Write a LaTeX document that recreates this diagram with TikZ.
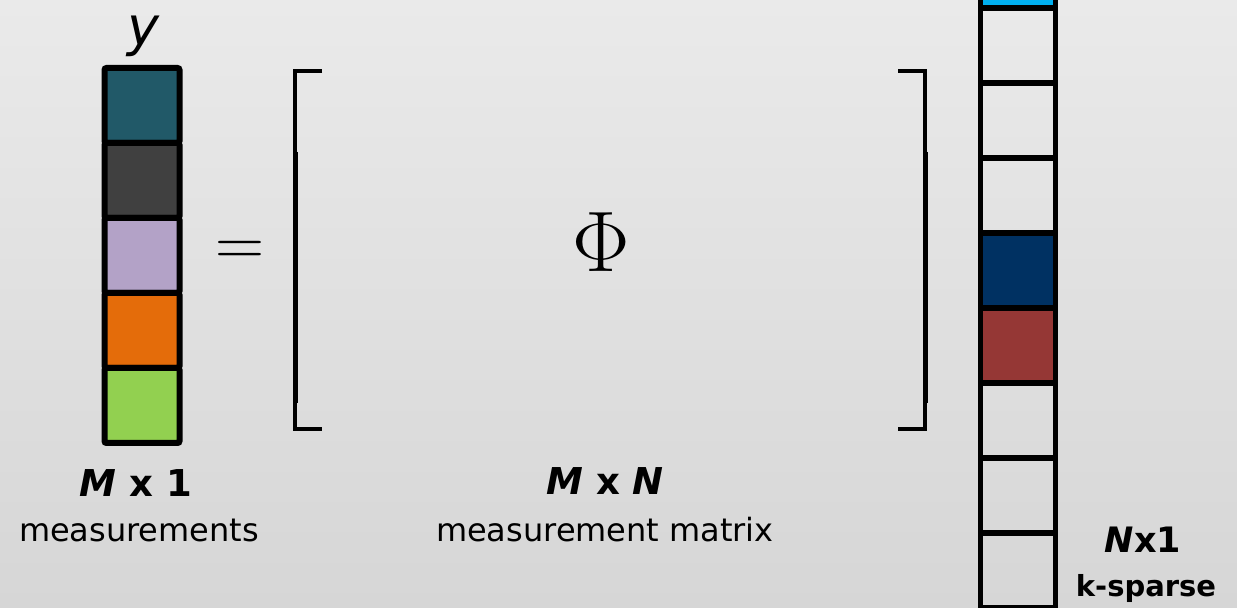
\RequirePackage{fix-cm}
\documentclass[tikz,border=0pt]{standalone}
\usepackage{fontspec}
\setmainfont{DejaVu Sans}
\usepackage{tikz}
\definecolor{bgtop}{HTML}{EAEAEA}
\definecolor{bgbot}{HTML}{D6D6D6}
\definecolor{yteal}{HTML}{215968}
\definecolor{ygray}{HTML}{404040}
\definecolor{ylav}{HTML}{B3A2C7}
\definecolor{yorange}{HTML}{E46C0A}
\definecolor{ygreen}{HTML}{92D050}
\definecolor{xcyan}{HTML}{00B0F0}
\definecolor{xblue}{HTML}{003162}
\definecolor{xred}{HTML}{953735}
\tikzset{ycell/.style={draw, line width=3pt, minimum size=37.5pt, inner sep=0pt, rounded corners=1pt},
  xcell/.style={draw, line width=2.75pt, minimum size=37.5pt, inner sep=0pt},
  dimlabel/.style={font=\fontsize{18.5}{22}\selectfont\bfseries, anchor=base},
  desclabel/.style={font=\fontsize{16}{19}\selectfont, anchor=base},
  bracket/.style={line width=1.7pt}}
\newcommand{\matbracket}[2]{\draw[bracket] (#1+#2,71) -- (#1,71) -- (#1,429) -- (#1+#2,429); \draw[line width=2.5pt] (#1,152) -- (#1,403);}

\begin{document}
\begin{tikzpicture}[x=0.5pt,y=-0.5pt]
\useasboundingbox (0,0) rectangle (1237,608);
\shade[top color=bgtop, bottom color=bgbot] (0,0) rectangle (1237,608);
\clip (0,0) rectangle (1237,608);
\node[font=\fontsize{27}{30}\selectfont\itshape] (ylabel) at (143,36) {y};
\foreach \c [count=\i] in {yteal,ygray,ylav,yorange,ygreen}
  \node[ycell, fill=\c] (y\i) at (142,30.5+75*\i) {};
\node[font=\fontsize{34}{34}\selectfont, anchor=base] (eq) at (240,266) {$=$};
\matbracket{295}{27}
\matbracket{925}{-27}
\node[font=\fontsize{43}{46}\selectfont, anchor=base] (phi) at (601,272) {$\Phi$};
\foreach \c [count=\i from 0] in {xcyan,none,none,none,xblue,xred,none,none,none,none}
  \node[xcell, fill=\c] (x\i) at (1017.75,-29.5+75*\i) {};
\node[dimlabel] (ydim) at (136,497) {{\itshape M} x 1};
\node[desclabel] (ydesc) at (139,542) {measurements};
\node[dimlabel] (phidim) at (605,495) {{\itshape M} x {\itshape N}};
\node[desclabel] (phidesc) at (605,542) {measurement matrix};
\node[dimlabel, font=\fontsize{17.5}{21}\selectfont\bfseries] (xdim) at (1143,553) {{\itshape N}x1};
\node[dimlabel, font=\fontsize{14.5}{17}\selectfont\bfseries] (xdesc) at (1146,597) {k-sparse};
\end{tikzpicture}
\end{document}
